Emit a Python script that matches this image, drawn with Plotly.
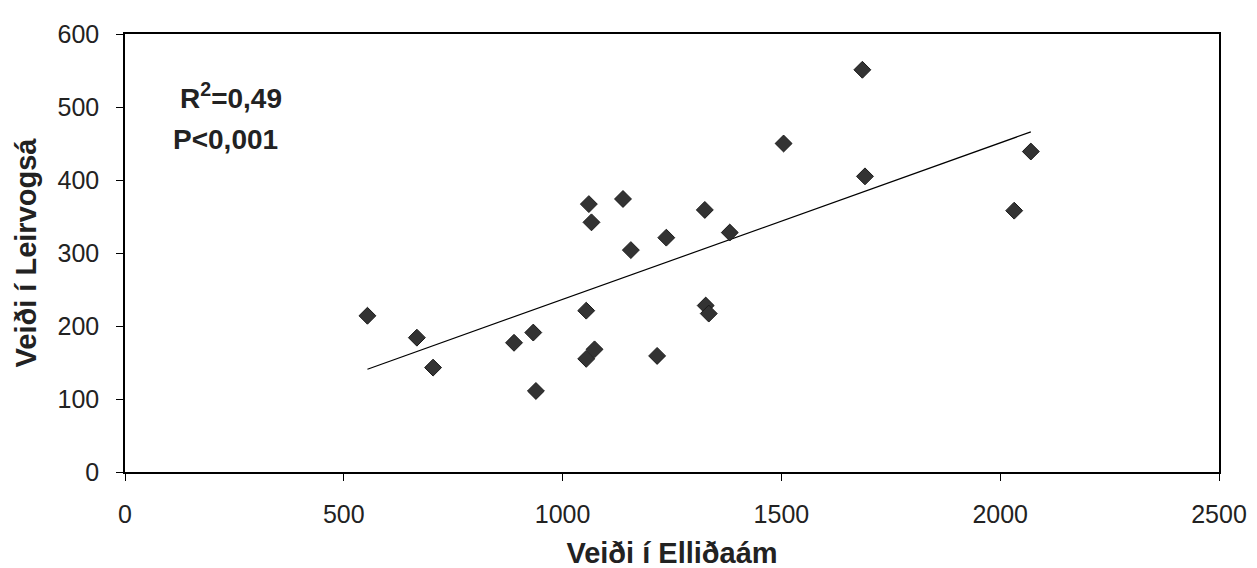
import numpy as np
import plotly.graph_objects as go

# Veiði í Elliðaám (x) vs Veiði í Leirvogsá (y)
ellidaar = [554, 667, 704, 889, 933, 939, 1054, 1054, 1073, 1060, 1066, 1138,
            1156, 1216, 1237, 1325, 1327, 1334, 1382, 1505, 1685, 1691, 2032, 2070]
leirvogsa = [214, 184, 143, 177, 191, 111, 221, 155, 168, 367, 342, 374,
             304, 159, 321, 359, 228, 217, 328, 450, 551, 405, 358, 439]

x_ticks = [0, 500, 1000, 1500, 2000, 2500]
y_ticks = [0, 100, 200, 300, 400, 500, 600]

# linear trend line, least squares over the points
slope, intercept = np.polyfit(ellidaar, leirvogsa, 1)
trend_x = np.array([min(ellidaar), max(ellidaar)])
trend_y = slope * trend_x + intercept

font = "Liberation Sans, Arial, sans-serif"

fig = go.Figure()
fig.add_trace(go.Scatter(x=trend_x, y=trend_y, mode="lines",
                         line=dict(color="black", width=1.2), hoverinfo="skip"))
fig.add_trace(go.Scatter(x=ellidaar, y=leirvogsa, mode="markers",
                         marker=dict(symbol="diamond", size=13, color="#333333",
                                     line=dict(color="#1a1a1a", width=1))))

axis_common = dict(showgrid=False, zeroline=False, showline=True, linecolor="black",
                   linewidth=1.5, ticks="outside", ticklen=7, tickcolor="black",
                   tickwidth=1, tickfont=dict(family=font, size=25, color="#222"))

fig.update_layout(
    width=1257, height=568,
    margin=dict(l=117, r=46, t=19, b=101),
    paper_bgcolor="white", plot_bgcolor="white",
    showlegend=False,
    xaxis=dict(range=[0, 2500], tickvals=x_ticks, mirror=True, ticklabelstandoff=12,
               title=dict(text="<b>Veiði í Elliðaám</b>", standoff=16,
                          font=dict(family=font, size=29, color="#222")),
               **axis_common),
    yaxis=dict(range=[0, 600], tickvals=y_ticks, mirror=True, ticklabelstandoff=12,
               title=dict(text="<b>Veiði í Leirvogsá</b>", standoff=12,
                          font=dict(family=font, size=29, color="#222")),
               **axis_common),
    # inside ticks on overlaid axes so tick marks cross the axis line
    xaxis2=dict(range=[0, 2500], tickvals=x_ticks, overlaying="x", anchor="y",
                side="bottom", showticklabels=False, showgrid=False, zeroline=False,
                ticks="inside", ticklen=7, tickcolor="black"),
    yaxis2=dict(range=[0, 600], tickvals=y_ticks, overlaying="y", anchor="x",
                side="left", showticklabels=False, showgrid=False, zeroline=False,
                ticks="inside", ticklen=7, tickcolor="black"),
)

fig.add_annotation(x=0.048, y=0.905, xref="paper", yref="paper", xanchor="left",
                   text="<b>R<sup>2</sup>=0,49</b>", showarrow=False,
                   font=dict(family=font, size=28, color="#222"))
fig.add_annotation(x=0.042, y=0.80, xref="paper", yref="paper", xanchor="left",
                   text="<b>P<0,001</b>", showarrow=False,
                   font=dict(family=font, size=28, color="#222"))

fig.write_html("out.html")
